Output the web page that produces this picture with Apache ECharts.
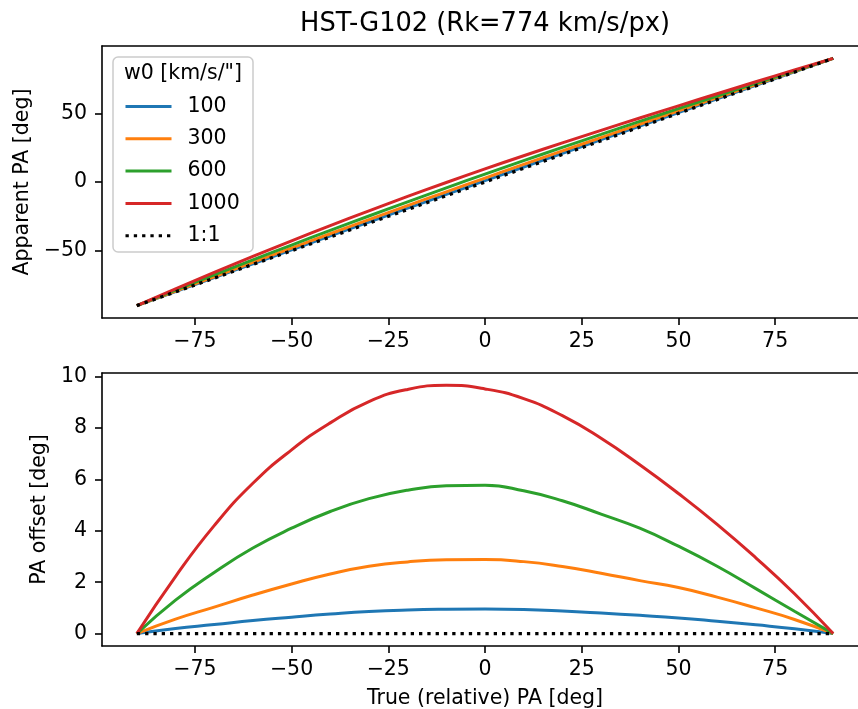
<!DOCTYPE html>
<html>
<head>
<meta charset="utf-8">
<script src="https://cdn.jsdelivr.net/npm/echarts@6/dist/echarts.min.js"></script>
<style>
html,body{margin:0;padding:0;background:#fff;overflow:hidden;width:858px;height:709px;}
#c{width:900px;height:709px;}
</style>
</head>
<body>
<div id="c"></div>
<script>
// True (relative) PA [deg]
var truePA = [-90,-80,-70,-60,-50,-40,-30,-20,-10,0,10,20,30,40,50,60,70,80,90];
// Apparent PA [deg] (top panel)
var app100  = [-90,-79.8,-69.65,-59.49,-49.36,-39.24,-29.14,-19.08,-9.05,0.96,10.94,20.88,30.8,40.71,50.61,60.48,70.34,80.19,90];
var app300  = [-90,-79.44,-68.97,-58.5,-48.07,-37.68,-27.38,-17.21,-7.13,2.88,12.8,22.61,32.35,42.06,51.79,61.42,71.0,80.55,90];
var app600  = [-90,-78.7,-67.62,-56.67,-45.9,-35.25,-24.75,-14.42,-4.25,5.77,15.56,25.17,34.65,44.1,53.4,62.62,71.75,80.87,90];
var app1000 = [-90,-77.78,-65.8,-54.15,-42.85,-31.8,-20.97,-10.5,-0.34,9.52,19.14,28.48,37.6,46.57,55.45,64.25,72.95,81.55,90];
// PA offset [deg] (bottom panel)
var off100  = [0,0.2,0.35,0.51,0.64,0.76,0.86,0.92,0.95,0.96,0.94,0.88,0.8,0.71,0.61,0.48,0.34,0.19,0];
var off300  = [0,0.56,1.03,1.5,1.93,2.32,2.62,2.79,2.87,2.88,2.8,2.61,2.35,2.06,1.79,1.42,1.0,0.55,0];
var off600  = [0,1.3,2.38,3.33,4.1,4.75,5.25,5.58,5.75,5.77,5.56,5.17,4.65,4.1,3.4,2.62,1.75,0.87,0];
var off1000 = [0,2.22,4.2,5.85,7.15,8.2,9.03,9.5,9.66,9.52,9.14,8.48,7.6,6.57,5.45,4.25,2.95,1.55,0];
// 1:1 reference
var oneX = [-90, 90];
var oneTop = [-90, 90];
var oneBottom = [0, 0];

var names = ['100','300','600','1000','1:1'];
var colors = ['#1f77b4','#ff7f0e','#2ca02c','#d62728','#000000'];
var xTicks = [-75,-50,-25,0,25,50,75];
var yTopTicks = [-50,0,50];
var yBotTicks = [0,2,4,6,8,10];

var FONT = 'DejaVu Sans';
var FS = 20.5;
var AX = {color:'#000', width:1.6};
function minus(v){ return String(v).replace('-', '\u2212'); }
function pairs(xs, ys){ return xs.map(function(x,i){ return [x, ys[i]]; }); }

function xAxisDef(idx, withName){
  return {
    type:'value', gridIndex:idx, min:-99, max:99, position:'bottom',
    axisLine:{show:true, onZero:false, lineStyle:AX},
    splitLine:{show:false},
    axisTick:{show:true, length:7, inside:false, lineStyle:AX, customValues:xTicks},
    axisLabel:{color:'#000', fontFamily:FONT, fontSize:FS, margin:13, customValues:xTicks, formatter:minus},
    name: withName ? 'True (relative) PA [deg]' : '',
    nameLocation:'middle', nameGap:42,
    nameTextStyle:{color:'#000', fontFamily:FONT, fontSize:FS}
  };
}
function topFrame(idx){
  return {
    type:'value', gridIndex:idx, min:-99, max:99, position:'top',
    axisLine:{show:true, onZero:false, lineStyle:AX},
    splitLine:{show:false}, axisTick:{show:false}, axisLabel:{show:false}
  };
}
function yAxisDef(idx, min, max, ticks, name, gap){
  return {
    type:'value', gridIndex:idx, min:min, max:max, position:'left',
    axisLine:{show:true, onZero:false, lineStyle:AX},
    splitLine:{show:false},
    axisTick:{show:true, length:7, inside:false, lineStyle:AX, customValues:ticks},
    axisLabel:{color:'#000', fontFamily:FONT, fontSize:FS, margin:15, customValues:ticks, formatter:minus},
    name:name, nameLocation:'middle', nameGap:gap,
    nameTextStyle:{color:'#000', fontFamily:FONT, fontSize:FS}
  };
}
function lineSeries(name, color, xi, data, dotted){
  return {
    type:'line', name:name, xAxisIndex:xi, yAxisIndex:xi, data:data,
    symbol:'none', smooth: dotted ? false : 0.5,
    lineStyle:{color:color, width: dotted ? 3.3 : 3, type: dotted ? [3.3,5] : 'solid', cap:'butt'},
    itemStyle:{color:color},
    z: dotted ? 5 : 3, animation:false
  };
}

var topApp = [app100, app300, app600, app1000];
var botOff = [off100, off300, off600, off1000];
var series = [];
for (var i=0;i<4;i++){ series.push(lineSeries(names[i], colors[i], 0, pairs(truePA, topApp[i]), false)); }
series.push(lineSeries(names[4], colors[4], 0, pairs(oneX, oneTop), true));
for (var j=0;j<4;j++){ series.push(lineSeries(names[j], colors[j], 1, pairs(truePA, botOff[j]), false)); }
series.push(lineSeries(names[4], colors[4], 1, pairs(oneX, oneBottom), true));

var chart = echarts.init(document.getElementById('c'), null, {renderer:'canvas', width:900, height:709});
chart.setOption({
  animation:false,
  backgroundColor:'#fff',
  textStyle:{fontFamily:FONT},
  grid:[
    {left:102, top:46, width:766, height:272, show:false, containLabel:false, outerBoundsMode:'none'},
    {left:102, top:373, width:766, height:273, show:false, containLabel:false, outerBoundsMode:'none'}
  ],
  xAxis:[xAxisDef(0,false), xAxisDef(1,true), topFrame(0), topFrame(1)],
  yAxis:[
    yAxisDef(0, -99, 99, yTopTicks, 'Apparent PA [deg]', 68),
    yAxisDef(1, -0.483, 10.14, yBotTicks, 'PA offset [deg]', 50)
  ],
  legend:{
    show:true, orient:'vertical', left:124, top:96, padding:0,
    data:names, itemWidth:46, itemHeight:20, itemGap:11.3,
    itemStyle:{opacity:0},
    lineStyle:{width:3},
    textStyle:{color:'#000', fontFamily:FONT, fontSize:FS, padding:[0,0,0,11]},
    selectedMode:false
  },
  graphic:[
    {type:'text', x:485, y:24, style:{text:'HST-G102 (Rk=774 km/s/px)', fill:'#000', font:'25.7px "DejaVu Sans"', textAlign:'center', textVerticalAlign:'middle'}},
    {type:'rect', shape:{x:113, y:57, width:140, height:195, r:5}, style:{fill:'rgba(255,255,255,0.8)', stroke:'#cccccc', lineWidth:1.5}, z:-1},
    {type:'text', x:183, y:74, style:{text:'w0 [km/s/"]', fill:'#000', font:'20.5px "DejaVu Sans"', textAlign:'center', textVerticalAlign:'middle'}},
    {type:'rect', shape:{x:846, y:50, width:20, height:264}, style:{fill:'#fff'}, z:100},
    {type:'rect', shape:{x:846, y:377, width:20, height:264}, style:{fill:'#fff'}, z:100}
  ],
  series:series
});
</script>
</body>
</html>
